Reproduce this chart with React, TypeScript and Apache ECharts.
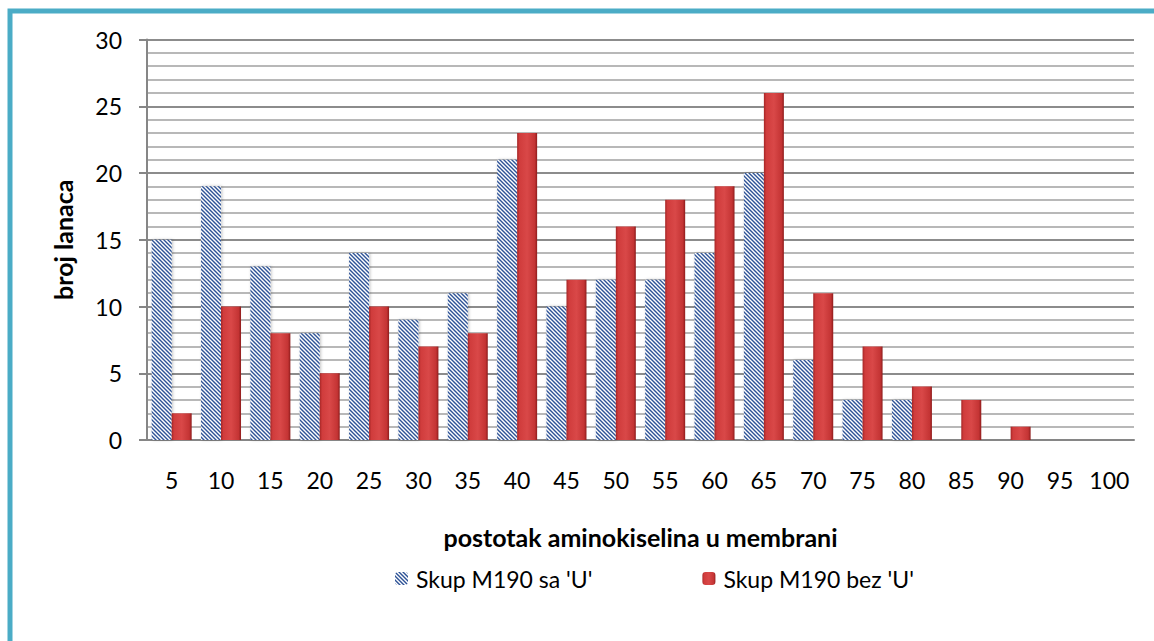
import React, { useEffect, useRef } from "react";
import * as echarts from "echarts";

const categories = ["5", "10", "15", "20", "25", "30", "35", "40", "45", "50", "55", "60", "65", "70", "75", "80", "85", "90", "95", "100"];
const saU = [15, 19, 13, 8, 14, 9, 11, 21, 10, 12, 12, 14, 20, 6, 3, 3, 0, 0, 0, 0];
const bezU = [2, 10, 8, 5, 10, 7, 8, 23, 12, 16, 18, 19, 26, 11, 7, 4, 3, 1, 0, 0];
const seriesNames = ["Skup M190 sa 'U'", "Skup M190 bez 'U'"];
const xTitle = "postotak aminokiselina u membrani";
const yTitle = "broj lanaca";

const FONT = "Lato";

function makeHatch(): HTMLCanvasElement {
  const c = document.createElement("canvas");
  c.width = 4;
  c.height = 4;
  const ctx = c.getContext("2d")!;
  ctx.fillStyle = "#ffffff";
  ctx.fillRect(0, 0, 4, 4);
  ctx.strokeStyle = "#2d5296";
  ctx.lineWidth = 1.4;
  ctx.beginPath();
  ctx.moveTo(-1, -1);
  ctx.lineTo(5, 5);
  ctx.moveTo(-1, 3);
  ctx.lineTo(1, 5);
  ctx.moveTo(3, -1);
  ctx.lineTo(5, 1);
  ctx.stroke();
  return c;
}

export default function App() {
  const ref = useRef<HTMLDivElement>(null);
  useEffect(() => {
    document.body.style.margin = "0";
    const chart = echarts.init(ref.current!, null, { renderer: "svg" });
    const hatch = makeHatch();
    const redGrad = new echarts.graphic.LinearGradient(0, 0, 1, 0, [
      { offset: 0, color: "#a52626" },
      { offset: 0.12, color: "#d03c3c" },
      { offset: 0.5, color: "#d94848" },
      { offset: 0.88, color: "#c43434" },
      { offset: 1, color: "#8e1c1c" },
    ]);
    chart.setOption({
      animation: false,
      backgroundColor: "#ffffff",
      textStyle: { fontFamily: FONT },
      graphic: [
        {
          type: "rect",
          shape: { x: 10, y: 11, width: 1300, height: 800 },
          style: { fill: "none", stroke: "#4bacc6", lineWidth: 5 },
          silent: true,
          z: 100,
        },
      ],
      grid: { left: 147, right: 20, top: 39.5, bottom: 201, containLabel: false },
      legend: {
        left: 390,
        top: 562,
        itemWidth: 13,
        itemHeight: 13,
        itemGap: 110,
        textStyle: { fontFamily: FONT, fontSize: 23, color: "#000", padding: [0, 0, 0, 3] },
        data: seriesNames,
      },
      xAxis: {
        type: "category",
        data: categories,
        name: xTitle,
        nameLocation: "middle",
        nameGap: 84,
        nameTextStyle: { fontFamily: FONT, fontSize: 25, fontWeight: "bold", color: "#000" },
        axisLine: { lineStyle: { color: "#868686", width: 2 } },
        axisTick: { show: false },
        axisLabel: { color: "#000", fontSize: 23, margin: 28, fontFamily: FONT, interval: 0, hideOverlap: false },
      },
      yAxis: {
        type: "value",
        min: 0,
        max: 30,
        interval: 5,
        name: yTitle,
        nameLocation: "middle",
        nameGap: 72,
        nameTextStyle: { fontFamily: FONT, fontSize: 25, fontWeight: "bold", color: "#000" },
        axisLine: { show: true, lineStyle: { color: "#868686", width: 2 } },
        axisTick: { show: true, length: 8, lineStyle: { color: "#868686", width: 2 } },
        axisLabel: { color: "#000", fontSize: 23, margin: 25, fontFamily: FONT },
        splitLine: { show: true, lineStyle: { color: "#8c8c8c", width: 2 } },
        minorTick: { show: false, splitNumber: 5 },
        minorSplitLine: { show: true, lineStyle: { color: "#b8b8b8", width: 2 } },
      },
      series: [
        {
          name: seriesNames[0],
          type: "bar",
          data: saU,
          barWidth: 20,
          barGap: "0%",
          itemStyle: {
            color: { image: hatch, repeat: "repeat", imageWidth: 4, imageHeight: 4 },
            shadowColor: "rgba(0,0,0,0.25)",
            shadowBlur: 3,
            shadowOffsetX: 1,
          },
        },
        {
          name: seriesNames[1],
          type: "bar",
          data: bezU,
          barWidth: 20,
          itemStyle: {
            color: redGrad,
          },
        },
      ],
    });
    return () => chart.dispose();
  }, []);
  return <div ref={ref} style={{ width: 1154, height: 641 }} />;
}
